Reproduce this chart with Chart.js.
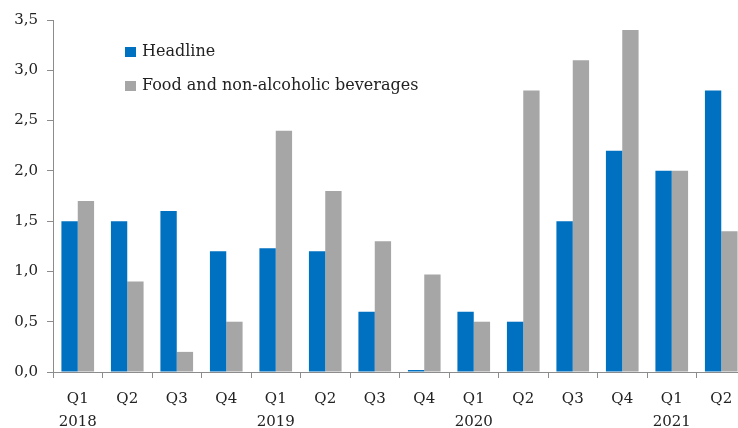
<!DOCTYPE html>
<html>
<head>
<meta charset="utf-8">
<script src="https://cdn.jsdelivr.net/npm/chart.js@4/dist/chart.umd.min.js"></script>
<style>
  html, body { margin: 0; padding: 0; background: #fff; overflow: hidden; }
  #wrap { width: 746px; height: 428px; }
</style>
</head>
<body>
<div id="wrap"><canvas id="inflation_canvas" width="746" height="428"></canvas></div>
<script>
// quarter labels, year shown under each Q1
const quarter_labels = [
  ['Q1', '2018'], 'Q2', 'Q3', 'Q4',
  ['Q1', '2019'], 'Q2', 'Q3', 'Q4',
  ['Q1', '2020'], 'Q2', 'Q3', 'Q4',
  ['Q1', '2021'], 'Q2'
];

// percentage change
const headline = [1.5, 1.5, 1.6, 1.2, 1.23, 1.2, 0.6, 0.02, 0.6, 0.5, 1.5, 2.2, 2.0, 2.8];
const food_beverages = [1.7, 0.9, 0.2, 0.5, 2.4, 1.8, 1.3, 0.97, 0.5, 2.8, 3.1, 3.4, 2.0, 1.4];

const font_family = '"DejaVu Serif", "Liberation Serif", serif';
const text_color = '#222222';
const axis_color = '#8c8c8c';

/**
 * Draws the legend inside the plot area, top left.
 */
const inside_legend = {
  id: 'inside_legend',
  afterDraw(chart) {
    const ctx = chart.ctx;
    const x = 125;
    const rows = [52, 86];
    ctx.save();
    ctx.font = '16px ' + font_family;
    ctx.textBaseline = 'middle';
    chart.data.datasets.forEach((ds, i) => {
      ctx.fillStyle = ds.backgroundColor;
      ctx.fillRect(x, rows[i] - 5, 11, 10);
      ctx.fillStyle = text_color;
      ctx.fillText(ds.label, x + 17, rows[i]);
    });
    ctx.restore();
  }
};

new Chart(document.getElementById('inflation_canvas'), {
  type: 'bar',
  data: {
    labels: quarter_labels,
    datasets: [
      {
        label: 'Headline',
        data: headline,
        backgroundColor: '#0070c0',
        categoryPercentage: 0.66,
        barPercentage: 1.0
      },
      {
        label: 'Food and non-alcoholic beverages',
        data: food_beverages,
        backgroundColor: '#a6a6a6',
        categoryPercentage: 0.66,
        barPercentage: 1.0
      }
    ]
  },
  options: {
    responsive: false,
    animation: false,
    layout: { padding: { left: 0, right: 0, top: 20, bottom: 0 } },
    plugins: {
      legend: { display: false },
      tooltip: { enabled: false }
    },
    scales: {
      x: {
        grid: {
          display: true,
          drawOnChartArea: false,
          drawTicks: true,
          tickLength: 6,
          color: axis_color
        },
        border: { color: axis_color },
        ticks: {
          color: text_color,
          padding: 9,
          maxRotation: 0,
          autoSkip: false,
          font: { family: font_family, size: 15, lineHeight: 1.55 }
        },
        afterFit: (scale) => { scale.height = 56; }
      },
      y: {
        min: 0,
        max: 3.5,
        grid: {
          display: true,
          drawOnChartArea: false,
          drawTicks: true,
          tickLength: 6,
          color: axis_color
        },
        border: { color: axis_color },
        ticks: {
          stepSize: 0.5,
          color: text_color,
          padding: 9,
          font: { family: font_family, size: 15 },
          callback: (v) => v.toFixed(1).replace('.', ',')
        },
        afterFit: (scale) => { scale.width = 53; }
      }
    }
  },
  plugins: [inside_legend]
});
</script>
</body>
</html>
